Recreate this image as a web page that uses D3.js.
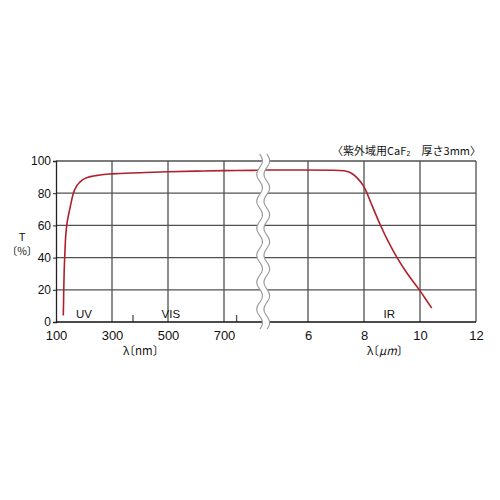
<!DOCTYPE html>
<html><head><meta charset="utf-8">
<script src="https://cdn.jsdelivr.net/npm/d3@7"></script>
<style>html,body{margin:0;padding:0;background:#fff}
.halt{font-feature-settings:"halt" 1;}</style>
</head><body>
<svg id="c" width="500" height="500"></svg>
<script>
// ---- data ----
const nmWavelength = [126,127,127.7,129,131,133.5,137,143,149,162,174,186,204,257,300,400,500,600,700,800,840];
const nmT          = [4,12,20,30,40,50,58,65,70,80,84.5,87,89.2,91.3,92,92.7,93.3,93.7,94,94.2,94.3];
const umWavelength = [4.4,6,7,7.3,7.5,7.73,8.0,8.11,8.27,8.44,8.6,8.86,9.17,9.54,9.98,10.2,10.42];
const umT          = [94.4,94.4,94.3,94,93.2,90.3,84.5,80,73,66,59.5,50,40,30,20,14.3,8.6];
const yTicks = [0,20,40,60,80,100];
const nmTicks = [100,300,500,700];
const umTicks = [6,8,10,12];
const regionTicks = [375,745];
const regionLabels = [{t:"UV",nm:200},{t:"VIS",nm:510}];
const irLabel = {t:"IR",um:8.9};
const title = "〈紫外域用CaF₂　厚さ3mm〉";

(function(){
const svg = d3.select("#c");
const pL = 56, pR = 476, pT = 161, pB = 322, brk = 263.2;
const xNm = d3.scaleLinear().domain([100,840]).range([pL,brk]);
const xUm = d3.scaleLinear().domain([4.4,12]).range([brk,pR]);
const y = d3.scaleLinear().domain([0,100]).range([pB,pT]);
const numFont = "'Liberation Sans', Arial, sans-serif";
const jpFont = "'Noto Sans CJK JP', sans-serif";
const gridCol = "#505050";

// horizontal grid lines
svg.append("g").selectAll("line").data(yTicks.filter(d=>d>0)).join("line")
  .attr("x1",pL).attr("x2",pR).attr("y1",d=>y(d)).attr("y2",d=>y(d))
  .attr("stroke",gridCol).attr("stroke-width",1.3);
// vertical grid lines
const vlines = nmTicks.filter(d=>d>100).map(d=>xNm(d)).concat(umTicks.map(d=>xUm(d)));
svg.append("g").selectAll("line").data(vlines).join("line")
  .attr("x1",d=>d).attr("x2",d=>d).attr("y1",pT).attr("y2",pB)
  .attr("stroke",gridCol).attr("stroke-width",1.3);
// region ticks
svg.append("g").selectAll("line").data(regionTicks).join("line")
  .attr("x1",d=>xNm(d)).attr("x2",d=>xNm(d)).attr("y1",pB-7).attr("y2",pB)
  .attr("stroke",gridCol).attr("stroke-width",1.3);

// y axis
const yAxis = d3.axisLeft(y).tickValues(yTicks).tickSize(3).tickPadding(2);
const ya = svg.append("g").attr("transform",`translate(${pL},0)`).call(yAxis);
ya.select(".domain").attr("stroke","#222").attr("stroke-width",1.3);
ya.selectAll(".tick line").attr("stroke","#222");
ya.selectAll("text").attr("font-family",numFont).attr("font-size",12).attr("fill","#111");

// bottom axis line
svg.append("line").attr("x1",pL).attr("x2",pR).attr("y1",pB).attr("y2",pB)
  .attr("stroke","#111").attr("stroke-width",1.5);

// x tick labels
const xa1 = svg.append("g").attr("transform",`translate(0,${pB})`)
  .call(d3.axisBottom(xNm).tickValues(nmTicks).tickSize(0).tickPadding(9));
const xa2 = svg.append("g").attr("transform",`translate(0,${pB})`)
  .call(d3.axisBottom(xUm).tickValues(umTicks).tickSize(0).tickPadding(9));
[xa1,xa2].forEach(a=>{a.select(".domain").remove();
  a.selectAll("text").attr("font-family",numFont).attr("font-size",13).attr("fill","#111");});

// curves
svg.append("path")
  .attr("d",d3.line().curve(d3.curveMonotoneX)(nmWavelength.map((w,i)=>[xNm(w),y(nmT[i])])))
  .attr("fill","none").attr("stroke","#b0202c").attr("stroke-width",1.6);
svg.append("path")
  .attr("d",d3.line().curve(d3.curveBasis)(umWavelength.map((w,i)=>[xUm(w),y(umT[i])])))
  .attr("fill","none").attr("stroke","#b0202c").attr("stroke-width",1.6);

// break mark
const A=2.8, P=27, y0=154, y1=329;
const ys = d3.range(y0,y1+0.5,0.5);
const lx = ys.map(v=>[brk-3.6 + A*Math.sin(2*Math.PI*(v-y0)/P), v]);
const rx = ys.map(v=>[brk+3.6 + A*Math.sin(2*Math.PI*(v-y0)/P), v]);
svg.append("path").attr("d", d3.line()(lx.concat(rx.slice().reverse()))+"Z")
  .attr("fill","#fff").attr("stroke","none");
svg.append("path").attr("d",d3.line()(lx)).attr("fill","none").attr("stroke","#999").attr("stroke-width",1.2);
svg.append("path").attr("d",d3.line()(rx)).attr("fill","none").attr("stroke","#999").attr("stroke-width",1.2);

// region labels
svg.append("g").selectAll("text").data(regionLabels).join("text")
  .attr("x",d=>xNm(d.nm)).attr("y",318).attr("text-anchor","middle")
  .attr("font-family",numFont).attr("font-size",11.5).attr("fill","#111").text(d=>d.t);
svg.append("text").attr("x",xUm(irLabel.um)).attr("y",318).attr("text-anchor","middle")
  .attr("font-family",numFont).attr("font-size",11.5).attr("fill","#111").text(irLabel.t);

// axis titles
svg.append("text").attr("x",22).attr("y",241).attr("text-anchor","middle")
  .attr("font-family",numFont).attr("font-size",11).attr("fill","#111").text("T");
svg.append("text").attr("class","halt").attr("x",22).attr("y",254.5).attr("text-anchor","middle")
  .attr("font-family",jpFont).attr("font-size",10.5).attr("fill","#111").text("〔%〕");
svg.append("text").attr("class","halt").attr("x",123).attr("y",355)
  .attr("font-family",jpFont).attr("font-size",11.5).attr("fill","#111").text("λ〔nm〕");
const t2 = svg.append("text").attr("class","halt").attr("x",367).attr("y",355)
  .attr("font-family",jpFont).attr("font-size",11.5).attr("fill","#111");
t2.append("tspan").text("λ〔");
t2.append("tspan").attr("font-style","italic").text("μm");
t2.append("tspan").text("〕");

// title
svg.append("text").attr("x",481).attr("y",155).attr("text-anchor","end")
  .attr("font-family",jpFont).attr("font-size",11).attr("fill","#111").text(title);
})();
</script>
</body></html>
